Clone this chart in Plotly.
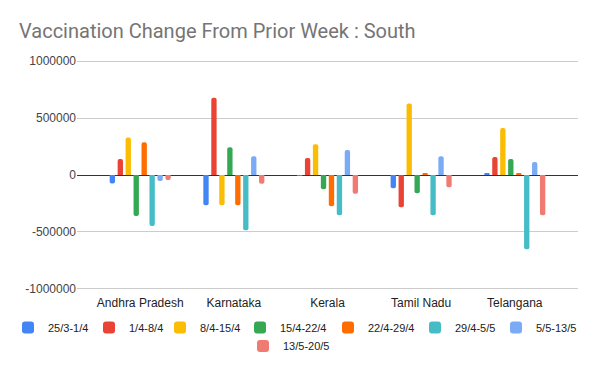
import plotly.graph_objects as go

states = ["Andhra Pradesh", "Karnataka", "Kerala", "Tamil Nadu", "Telangana"]
weeks = ["25/3-1/4", "1/4-8/4", "8/4-15/4", "15/4-22/4", "22/4-29/4", "29/4-5/5", "5/5-13/5", "13/5-20/5"]
w_25_3 = [-75000, -266000, -5000, -117000, 17000]
w_1_4 = [140000, 678000, 149000, -284000, 158000]
w_8_4 = [330000, -266000, 269000, 629000, 412000]
w_15_4 = [-360000, 243000, -125000, -161000, 140000]
w_22_4 = [287000, -266000, -275000, 17000, 17000]
w_29_4 = [-447000, -485000, -354000, -354000, -652000]
w_5_5 = [-52000, 164000, 219000, 164000, 114000]
w_13_5 = [-45000, -76000, -164000, -108000, -354000]
series = [w_25_3, w_1_4, w_8_4, w_15_4, w_22_4, w_29_4, w_5_5, w_13_5]
colors = ["#4285F4", "#EA4335", "#FBBC04", "#34A853", "#FF6D01", "#46BDC6", "#7BAAF7", "#F07B72"]

# page is offset by the 8px body margin; layout below is in figure pixels
W, H = 592, 363
# legend entry placement (left of square, row centre), figure pixels
leg_sq_left = [10, 98, 169, 249, 337, 424, 505, 252]
leg_row_y = [319.5, 319.5, 319.5, 319.5, 319.5, 319.5, 319.5, 338]

fig = go.Figure()
legends = {}
for i, (name, vals, c) in enumerate(zip(weeks, series, colors)):
    lname = "legend" if i == 0 else f"legend{i+1}"
    fig.add_trace(go.Bar(x=states, y=vals, name=name, legend=lname,
                         marker=dict(color=c, line=dict(width=0))))
    legends[lname] = dict(xref="container", yref="container",
                          x=(leg_sq_left[i] - 17) / W, xanchor="left",
                          y=1 - leg_row_y[i] / H, yanchor="middle",
                          orientation="h", bgcolor="rgba(0,0,0,0)", borderwidth=0,
                          font=dict(family="Liberation Sans, Arial", size=11, color="#222"))

fig.update_layout(
    template="none",
    width=W, height=H,
    paper_bgcolor="white", plot_bgcolor="white",
    margin=dict(l=69, r=22, t=52, b=81, autoexpand=False),
    barmode="group", bargap=0.32, bargroupgap=0.33, barcornerradius=3,
    title=dict(text="Vaccination Change From Prior Week : South", x=11 / W, xanchor="left",
               xref="container", yref="container", y=0.918, yanchor="bottom",
               font=dict(family="Roboto", size=20, color="#757575")),
    font=dict(family="Liberation Sans, Arial", size=12, color="#444"),
    xaxis=dict(range=[-0.675, 4.675], showgrid=False, zeroline=False, showline=False,
               ticks="", tickfont=dict(color="#222", size=12), ticklabelstandoff=4),
    yaxis=dict(range=[-1010000, 1010000], tickvals=[-1000000, -500000, 0, 500000, 1000000],
               ticktext=["-1000000", "-500000", "0", "500000", "1000000"],
               showgrid=True, gridcolor="#cccccc", gridwidth=1,
               zeroline=True, zerolinecolor="#333333", zerolinewidth=1,
               ticks="", showline=False, tickfont=dict(color="#444", size=12)),
    showlegend=True,
    **legends,
)
fig.write_html("out.html")
